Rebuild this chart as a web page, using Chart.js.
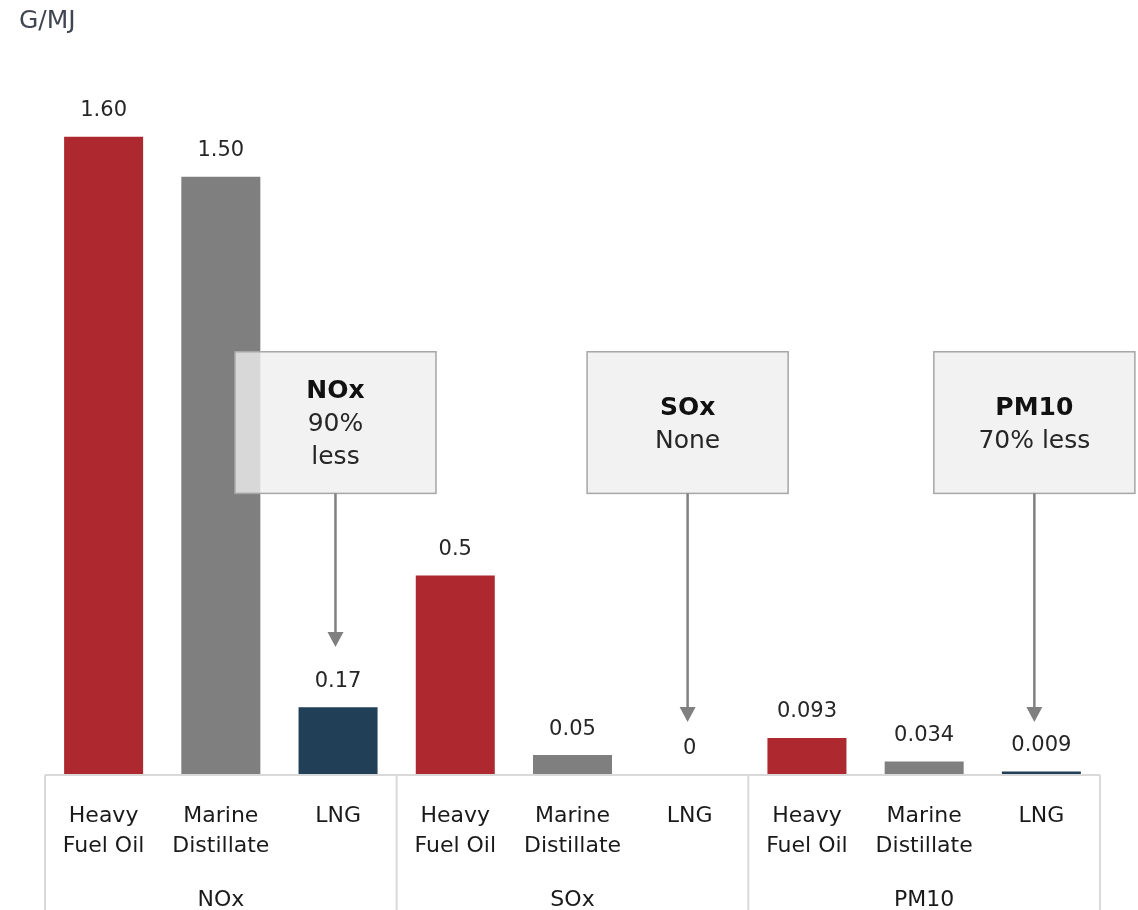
<!DOCTYPE html>
<html>
<head>
<meta charset="utf-8">
<script src="https://cdn.jsdelivr.net/npm/chart.js@4/dist/chart.umd.min.js"></script>
<style>
  html, body { margin: 0; padding: 0; background: #ffffff; }
  #wrap { position: relative; width: 1138px; height: 910px; }
</style>
</head>
<body>
<div id="wrap"><canvas id="c" width="1138" height="910"></canvas></div>
<script>
// ---- data ----
const unitLabel = 'G/MJ';
const groups = ['NOx', 'SOx', 'PM10'];
const fuels = [['Heavy', 'Fuel Oil'], ['Marine', 'Distillate'], ['LNG']];
const fuelColors = ['#ae282f', '#7f7f7f', '#213f56'];
const values = [1.60, 1.50, 0.17, 0.5, 0.05, 0, 0.093, 0.034, 0.009];
const valueLabels = ['1.60', '1.50', '0.17', '0.5', '0.05', '0', '0.093', '0.034', '0.009'];
const calloutTitles = ['NOx', 'SOx', 'PM10'];
const calloutTexts = [['90%', 'less'], ['None'], ['70% less']];
const calloutTargets = [2, 5, 8];

// categories built from groups x fuels
const categories = [];
const barColors = [];
groups.forEach(() => fuels.forEach((f, i) => { categories.push(f); barColors.push(fuelColors[i]); }));

const FONT = "'DejaVu Sans', sans-serif";

const overlay = {
  id: 'overlay',
  afterDatasetsDraw(chart) {
    const ctx = chart.ctx;
    const x = chart.scales.x, y = chart.scales.y;
    const meta = chart.getDatasetMeta(0);
    ctx.save();
    // value labels
    ctx.fillStyle = '#262626';
    ctx.font = '21px ' + FONT;
    ctx.textAlign = 'center';
    ctx.textBaseline = 'middle';
    meta.data.forEach((bar, i) => {
      ctx.fillText(valueLabels[i], bar.x, bar.y - 26);
    });
    // callouts
    const step = x.getPixelForValue(1) - x.getPixelForValue(0);
    const dxs = [-0.022, -0.018, -0.06];
    calloutTargets.forEach((idx, k) => {
      const cx = x.getPixelForValue(idx) + dxs[k] * step;
      const w = 1.715 * step;
      const top = y.getPixelForValue(1.061);
      const bot = y.getPixelForValue(0.706);
      const tip = y.getPixelForValue(k === 0 ? 0.321 : 0.133);
      ctx.fillStyle = 'rgba(239,239,239,0.8)';
      ctx.fillRect(cx - w / 2, top, w, bot - top);
      ctx.strokeStyle = '#a6a6a6';
      ctx.lineWidth = 1.5;
      ctx.strokeRect(cx - w / 2, top, w, bot - top);
      // text
      const lines = [calloutTitles[k]].concat(calloutTexts[k]);
      const lh = 33;
      lines.forEach((t, j) => {
        ctx.font = (j === 0 ? 'bold ' : '') + '25px ' + FONT;
        ctx.fillStyle = j === 0 ? '#111111' : '#262626';
        ctx.fillText(t, cx, (k === 0 ? top + 40 : top + 57) + j * lh);
      });
      // arrow
      ctx.strokeStyle = '#808080';
      ctx.lineWidth = 2.5;
      ctx.beginPath();
      ctx.moveTo(cx, bot);
      ctx.lineTo(cx, tip - 12);
      ctx.stroke();
      ctx.fillStyle = '#808080';
      ctx.beginPath();
      ctx.moveTo(cx - 8, tip - 15);
      ctx.lineTo(cx + 8, tip - 15);
      ctx.lineTo(cx, tip);
      ctx.closePath();
      ctx.fill();
    });
    ctx.restore();
  },
  afterDraw(chart) {
    const ctx = chart.ctx;
    const x = chart.scales.x;
    const area = chart.chartArea;
    ctx.save();
    // group separators
    ctx.strokeStyle = '#d9d9d9';
    ctx.lineWidth = 2;
    const bounds = [x.left];
    for (let g = 1; g < groups.length; g++) {
      const a = x.getPixelForValue(g * fuels.length - 1), b = x.getPixelForValue(g * fuels.length);
      bounds.push((a + b) / 2);
    }
    bounds.push(x.right);
    bounds.forEach(bx => {
      ctx.beginPath();
      ctx.moveTo(bx, area.bottom);
      ctx.lineTo(bx, chart.height);
      ctx.stroke();
    });
    ctx.beginPath();
    ctx.moveTo(x.left, area.bottom);
    ctx.lineTo(x.right, area.bottom);
    ctx.stroke();
    // unit label
    ctx.fillStyle = '#404552';
    ctx.font = '25px ' + FONT;
    ctx.textAlign = 'left';
    ctx.textBaseline = 'middle';
    ctx.fillText(unitLabel, 19, 21);
    ctx.restore();
  }
};

new Chart(document.getElementById('c'), {
  type: 'bar',
  data: {
    labels: categories,
    datasets: [{
      data: values,
      backgroundColor: barColors,
      borderWidth: 0,
      barPercentage: 0.674,
      categoryPercentage: 1.0
    }]
  },
  options: {
    responsive: false,
    animation: false,
    layout: { padding: { left: 45, right: 38, top: 57, bottom: 0 } },
    plugins: { legend: { display: false }, tooltip: { enabled: false } },
    scales: {
      y: { display: false, min: 0, max: 1.8 },
      x: {
        position: 'bottom',
        grid: { display: false },
        border: { display: false },
        ticks: {
          color: '#1a1a1a',
          font: { family: FONT, size: 22, lineHeight: 1.36 },
          padding: 18,
          maxRotation: 0,
          autoSkip: false
        },
        afterFit(s) { s.height = 100; }
      },
      x2: {
        position: 'bottom',
        type: 'category',
        labels: groups,
        offset: true,
        grid: { display: false },
        border: { display: false },
        ticks: {
          color: '#1a1a1a',
          font: { family: FONT, size: 22 },
          padding: 4,
          maxRotation: 0
        },
        afterFit(s) { s.height = 35; }
      }
    }
  },
  plugins: [overlay]
});
</script>
</body>
</html>
